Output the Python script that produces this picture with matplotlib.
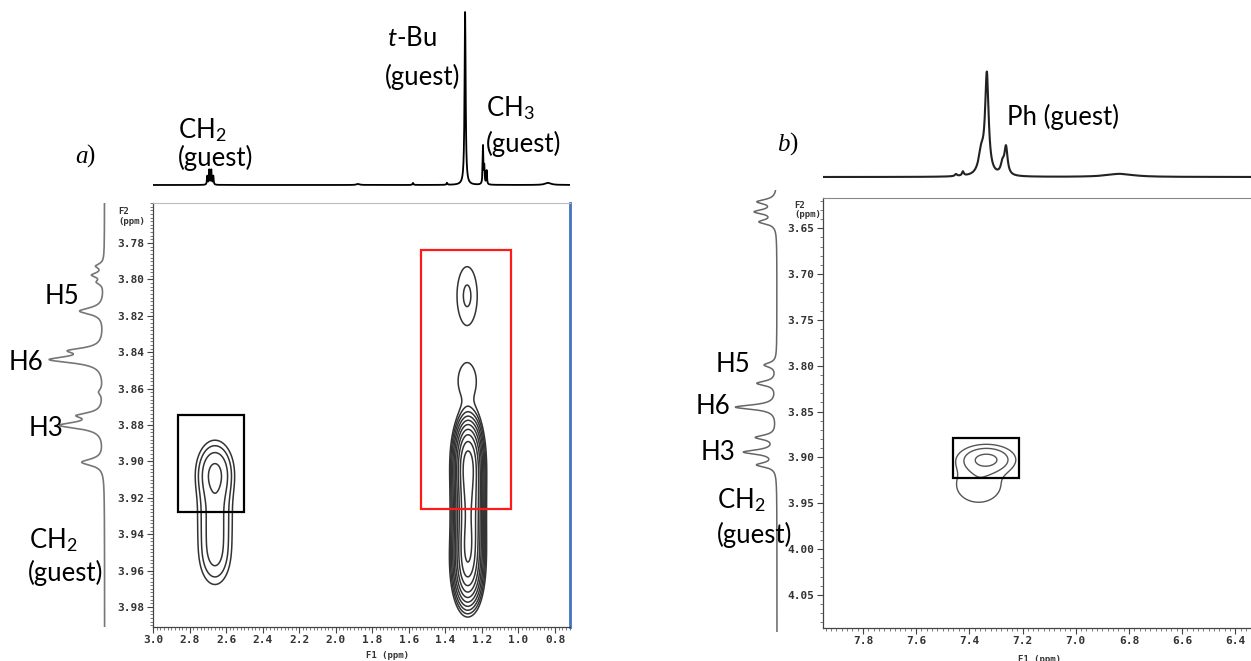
import matplotlib.pyplot as plt
import matplotlib
import numpy as np
from matplotlib.ticker import MultipleLocator, FixedLocator, FormatStrFormatter
from matplotlib.patches import Rectangle

W, H = 1251, 661

# ---------------- panel a ----------------
f1_ticks_a = [3.0, 2.8, 2.6, 2.4, 2.2, 2.0, 1.8, 1.6, 1.4, 1.2, 1.0, 0.8]
f2_ticks_a = [3.78, 3.80, 3.82, 3.84, 3.86, 3.88, 3.90, 3.92, 3.94, 3.96, 3.98]

# F1 projection (top trace): ppm, height, half width
top_a_ppm = [2.703, 2.692, 2.681, 2.670, 1.878, 1.577, 1.391, 1.292, 1.194, 1.187, 1.174, 0.838]
top_a_amp = [0.05, 0.085, 0.085, 0.05, 0.006, 0.012, 0.012, 1.0, 0.22, 0.10, 0.08, 0.012]
top_a_hw = [0.0022, 0.0022, 0.0022, 0.0022, 0.01, 0.003, 0.003, 0.0035, 0.0022, 0.0022, 0.0022, 0.02]

# F2 projection (left trace): ppm, height, half width
side_a_ppm = [3.793, 3.798, 3.802, 3.818, 3.840, 3.845, 3.863, 3.876, 3.8815, 3.902]
side_a_amp = [0.15, 0.22, 0.12, 0.47, 0.55, 1.0, 0.08, 0.43, 0.82, 0.43]
side_a_hw = [0.0015, 0.0015, 0.0015, 0.0022, 0.0018, 0.0022, 0.002, 0.0018, 0.0022, 0.0022]

# cross peaks: F1, F2, sigma F1, sigma F2, amplitude
cross_a_f1 = [2.661, 2.661, 2.661, 1.281, 1.281, 1.276, 1.276, 1.276, 1.278, 1.225]
cross_a_f2 = [3.906, 3.930, 3.952, 3.809, 3.856, 3.900, 3.920, 3.942, 3.958, 3.925]
cross_a_sx = [0.065, 0.065, 0.062, 0.057, 0.058, 0.036, 0.036, 0.036, 0.038, 0.02]
cross_a_sy = [0.011, 0.012, 0.012, 0.0165, 0.0105, 0.011, 0.012, 0.012, 0.011, 0.02]
cross_a_amp = [3.6, 2.2, 2.3, 1.6, 1.4, 40.0, 30.0, 30.0, 22.0, 5.0]
levels_a = [1.0, 1.5, 2.25, 3.4, 5.1, 7.6, 11.4, 17.0, 25.6, 38.0, 57.0]

# ---------------- panel b ----------------
f1_ticks_b = [7.8, 7.6, 7.4, 7.2, 7.0, 6.8, 6.6, 6.4]
f2_ticks_b = [3.65, 3.70, 3.75, 3.80, 3.85, 3.90, 3.95, 4.00, 4.05]

top_b_ppm = [7.45, 7.424, 7.355, 7.334, 7.275, 7.262, 6.834]
top_b_amp = [0.02, 0.04, 0.2, 0.95, 0.1, 0.26, 0.03]
top_b_hw = [0.005, 0.004, 0.012, 0.008, 0.008, 0.007, 0.06]

side_b_ppm = [3.621, 3.632, 3.643, 3.799, 3.819, 3.845, 3.878, 3.894, 3.908]
side_b_amp = [0.45, 0.5, 0.4, 0.3, 0.47, 1.0, 0.49, 0.78, 0.46]
side_b_hw = [0.003, 0.003, 0.003, 0.003, 0.003, 0.003, 0.003, 0.003, 0.003]

cross_b_f1 = [7.335, 7.365]
cross_b_f2 = [3.902, 3.930]
cross_b_sx = [0.06, 0.07]
cross_b_sy = [0.009, 0.016]
cross_b_amp = [3.0, 1.2]
levels_b = [0.6, 1.3, 2.6]


def box(x0, y0, x1, y1):
    return [x0 / W, 1 - y1 / H, (x1 - x0) / W, (y1 - y0) / H]


def lorentz(x, ppm, amp, hw):
    y = np.zeros_like(x)
    for p, a, w in zip(ppm, amp, hw):
        y += a * w ** 2 / ((x - p) ** 2 + w ** 2)
    return y


def gauss2d(X, Y, f1, f2, sx, sy, amp):
    Z = np.zeros_like(X)
    for a, b, c, d, e in zip(f1, f2, sx, sy, amp):
        Z += e * np.exp(-0.5 * ((X - a) / c) ** 2 - 0.5 * ((Y - b) / d) ** 2)
    return Z


matplotlib.rcParams['mathtext.fontset'] = 'custom'
matplotlib.rcParams['mathtext.rm'] = 'Lato'
matplotlib.rcParams['mathtext.it'] = 'Lato:italic'

lab_font = dict(family='Lato', size=18.5, color='black')

fig = plt.figure(figsize=(W / 100, H / 100), dpi=100)


def style_2d(ax, xt, yt, xfmt, yfmt, xminor, yminor):
    ax.xaxis.set_major_locator(FixedLocator(xt))
    ax.yaxis.set_major_locator(FixedLocator(yt))
    ax.xaxis.set_minor_locator(MultipleLocator(xminor))
    ax.yaxis.set_minor_locator(MultipleLocator(yminor))
    ax.xaxis.set_major_formatter(FormatStrFormatter(xfmt))
    ax.yaxis.set_major_formatter(FormatStrFormatter(yfmt))
    ax.tick_params(which='major', direction='out', length=4, width=0.8, color='#444444', pad=2)
    ax.tick_params(which='minor', direction='out', length=2, width=0.6, color='#666666')
    for lab in ax.get_xticklabels() + ax.get_yticklabels():
        lab.set_fontproperties(matplotlib.font_manager.FontProperties(
            family='DejaVu Sans Mono', weight='bold', size=8))
        lab.set_color('#333333')
    for s in ['left', 'bottom']:
        ax.spines[s].set_color('#444444')
        ax.spines[s].set_linewidth(0.9)


# ---- panel a, 2D ----
ax = fig.add_axes(box(153, 203, 570, 627))
xa = np.linspace(0.6, 3.1, 700)
ya = np.linspace(3.74, 4.01, 700)
Xa, Ya = np.meshgrid(xa, ya)
Za = gauss2d(Xa, Ya, cross_a_f1, cross_a_f2, cross_a_sx, cross_a_sy, cross_a_amp)
ax.contour(Xa, Ya, Za, levels=levels_a, colors='#333333', linewidths=1.1)
ax.set_xlim(3.0, 0.718)
ax.set_ylim(3.991, 3.758)
style_2d(ax, f1_ticks_a, f2_ticks_a, '%.1f', '%.2f', 0.02, 0.002)
ax.spines['top'].set_color('#bbbbbb')
ax.spines['top'].set_linewidth(0.8)
ax.spines['right'].set_color('#4472c4')
ax.spines['right'].set_linewidth(2)
ax.add_patch(Rectangle((2.863, 3.8745), 2.502 - 2.863, 3.928 - 3.8745,
                       fill=False, edgecolor='black', linewidth=1.6, zorder=5))
ax.add_patch(Rectangle((1.533, 3.784), 1.041 - 1.533, 3.926 - 3.784,
                       fill=False, edgecolor='#ff1a1a', linewidth=1.6, zorder=5))

# ---- panel a, top trace ----
axt = fig.add_axes(box(153, 8, 570, 190))
xt_a = np.linspace(0.6, 3.1, 12000)
axt.plot(xt_a, lorentz(xt_a, top_a_ppm, top_a_amp, top_a_hw), color='black', linewidth=1.3)
axt.set_xlim(3.0, 0.718)
axt.set_ylim(-0.029, 1.023)
axt.axis('off')

# ---- panel a, side trace ----
axs = fig.add_axes(box(40, 203, 115, 627))
ys_a = np.linspace(3.74, 4.01, 6000)
axs.plot(lorentz(ys_a, side_a_ppm, side_a_amp, side_a_hw), ys_a, color='#777777', linewidth=1.2)
axs.set_xlim(1.25, -0.2)
axs.set_ylim(3.9935, 3.758)
axs.axis('off')

# ---- panel b, 2D ----
bx = fig.add_axes(box(823, 198, 1251, 628))
xb = np.linspace(6.2, 8.1, 700)
yb = np.linspace(3.58, 4.12, 700)
Xb, Yb = np.meshgrid(xb, yb)
Zb = gauss2d(Xb, Yb, cross_b_f1, cross_b_f2, cross_b_sx, cross_b_sy, cross_b_amp)
bx.contour(Xb, Yb, Zb, levels=levels_b, colors='#555555', linewidths=1.0)
bx.set_xlim(7.950, 6.341)
bx.set_ylim(4.086, 3.617)
style_2d(bx, f1_ticks_b, f2_ticks_b, '%.1f', '%.2f', 0.02, 0.01)
bx.spines['top'].set_color('#888888')
bx.spines['top'].set_linewidth(0.8)
bx.spines['right'].set_visible(False)
bx.add_patch(Rectangle((7.462, 3.879), 7.214 - 7.462, 3.922 - 3.879,
                       fill=False, edgecolor='black', linewidth=1.6, zorder=5))

# ---- panel b, top trace ----
bxt = fig.add_axes(box(823, 60, 1251, 185))
xt_b = np.linspace(6.2, 8.1, 8000)
bxt.plot(xt_b, lorentz(xt_b, top_b_ppm, top_b_amp, top_b_hw), color='#222222', linewidth=1.5)
bxt.set_xlim(7.950, 6.341)
bxt.set_ylim(-0.076, 1.114)
bxt.axis('off')

# ---- panel b, side trace ----
bxs = fig.add_axes(box(720, 190, 790, 632))
ys_b = np.linspace(3.6, 4.1, 6000)
bxs.plot(lorentz(ys_b, side_b_ppm, side_b_amp, side_b_hw), ys_b, color='#666666', linewidth=1.1)
bxs.set_xlim(1.39, -0.317)
bxs.set_ylim(4.0902, 3.6082)
bxs.axis('off')


def ftext(x, y, s, **kw):
    fig.text(x / W, 1 - y / H, s, **kw)


# axis captions copied from the spectrometer plots
small = dict(family='DejaVu Sans Mono', weight='bold', size=6.5, color='#333333')
ftext(118, 212, 'F2', ha='left', va='center', **small)
ftext(118, 222, '(ppm)', ha='left', va='center', **small)
ftext(388, 655, 'F1 (ppm)', ha='center', va='center', **small)
ftext(794, 206, 'F2', ha='left', va='center', **small)
ftext(794, 214, '(ppm)', ha='left', va='center', **small)
ftext(1040, 659, 'F1 (ppm)', ha='center', va='center', **small)

# panel letters
serif = dict(family='Liberation Serif', size=18, color='black')
ftext(75, 157, 'a', style='italic', ha='left', va='center', **serif)
ftext(86, 156, ')', ha='left', va='center', **serif)
ftext(777, 145, 'b', style='italic', ha='left', va='center', **serif)
ftext(789, 144, ')', ha='left', va='center', **serif)

# peak labels
ftext(387, 38, r'$\mathit{t}$-Bu', ha='left', va='center', **lab_font)
ftext(385, 77, '(guest)', ha='left', va='center', **lab_font)
ftext(486, 108, r'CH$_3$', ha='left', va='center', **lab_font)
ftext(486, 144, '(guest)', ha='left', va='center', **lab_font)
ftext(178, 130, r'CH$_2$', ha='left', va='center', **lab_font)
ftext(178, 158, '(guest)', ha='left', va='center', **lab_font)
ftext(1007, 117, 'Ph (guest)', ha='left', va='center', **lab_font)

ftext(45, 297, 'H5', ha='left', va='center', **lab_font)
ftext(9, 362, 'H6', ha='left', va='center', **lab_font)
ftext(29, 428, 'H3', ha='left', va='center', **lab_font)
ftext(29, 540, r'CH$_2$', ha='left', va='center', **lab_font)
ftext(28, 573, '(guest)', ha='left', va='center', **lab_font)

ftext(716, 365, 'H5', ha='left', va='center', **lab_font)
ftext(696, 407, 'H6', ha='left', va='center', **lab_font)
ftext(701, 452, 'H3', ha='left', va='center', **lab_font)
ftext(717, 500, r'CH$_2$', ha='left', va='center', **lab_font)
ftext(717, 535, '(guest)', ha='left', va='center', **lab_font)

fig.savefig('out.png', dpi=100, facecolor='white')
